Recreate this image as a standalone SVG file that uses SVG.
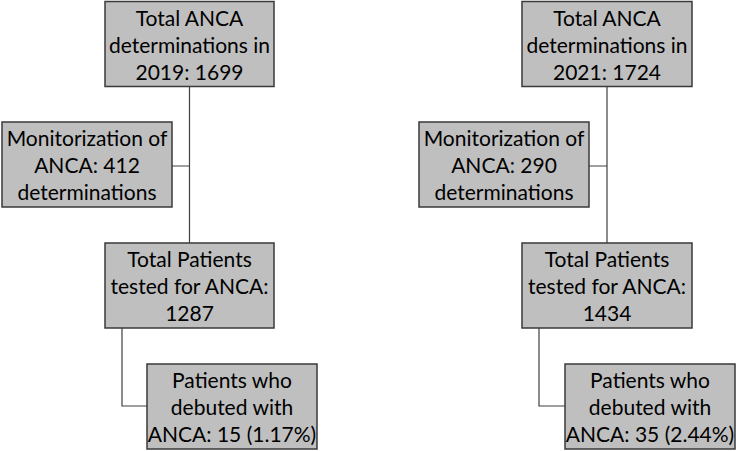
<svg xmlns="http://www.w3.org/2000/svg" width="736" height="451" viewBox="0 0 736 451">
<style>
.box{fill:#bfbfbf;stroke:#3a3a3a;stroke-width:1.5}
.t{font-family:Lato,"Open Sans","Liberation Sans",sans-serif;font-size:21px;fill:#000;text-anchor:middle}
.c{fill:none;stroke:#404040;stroke-width:1.2}
</style>
<rect width="736" height="451" fill="#fff"/>
<g id="connectors">
<path class="c" d="M189.5 86V243M172 166H189.5M122 328V406H147"/>
<path class="c" d="M607 87V243M589 166H607M539 328V406H565"/>
</g>
<g id="n_total2019">
<rect class="box" x="105" y="1.5" width="169" height="85"/>
<text class="t" x="189.5" y="26">Total ANCA</text>
<text class="t" x="189.5" y="53">determinations in</text>
<text class="t" x="189.5" y="80">2019: 1699</text>
</g>
<g id="n_monit2019">
<rect class="box" x="2" y="122" width="170" height="85"/>
<text class="t" x="87" y="146">Monitorization of</text>
<text class="t" x="87" y="173">ANCA: 412</text>
<text class="t" x="87" y="200">determinations</text>
</g>
<g id="n_patients2019">
<rect class="box" x="105" y="243" width="169" height="85"/>
<text class="t" x="189.5" y="267">Total Patients</text>
<text class="t" x="189.5" y="294">tested for ANCA:</text>
<text class="t" x="189.5" y="321">1287</text>
</g>
<g id="n_debut2019">
<rect class="box" x="147" y="364" width="170" height="85"/>
<text class="t" x="232" y="388">Patients who</text>
<text class="t" x="232" y="415">debuted with</text>
<text class="t" x="232" y="442">ANCA: 15 (1.17%)</text>
</g>
<g id="n_total2021">
<rect class="box" x="522" y="1.5" width="170" height="85"/>
<text class="t" x="607" y="26">Total ANCA</text>
<text class="t" x="607" y="53">determinations in</text>
<text class="t" x="607" y="80">2021: 1724</text>
</g>
<g id="n_monit2021">
<rect class="box" x="419" y="122" width="170" height="85"/>
<text class="t" x="504" y="146">Monitorization of</text>
<text class="t" x="504" y="173">ANCA: 290</text>
<text class="t" x="504" y="200">determinations</text>
</g>
<g id="n_patients2021">
<rect class="box" x="522" y="243" width="170" height="85"/>
<text class="t" x="607" y="267">Total Patients</text>
<text class="t" x="607" y="294">tested for ANCA:</text>
<text class="t" x="607" y="321">1434</text>
</g>
<g id="n_debut2021">
<rect class="box" x="565" y="364" width="170" height="85"/>
<text class="t" x="650" y="388">Patients who</text>
<text class="t" x="650" y="415">debuted with</text>
<text class="t" x="650" y="442">ANCA: 35 (2.44%)</text>
</g>
</svg>
